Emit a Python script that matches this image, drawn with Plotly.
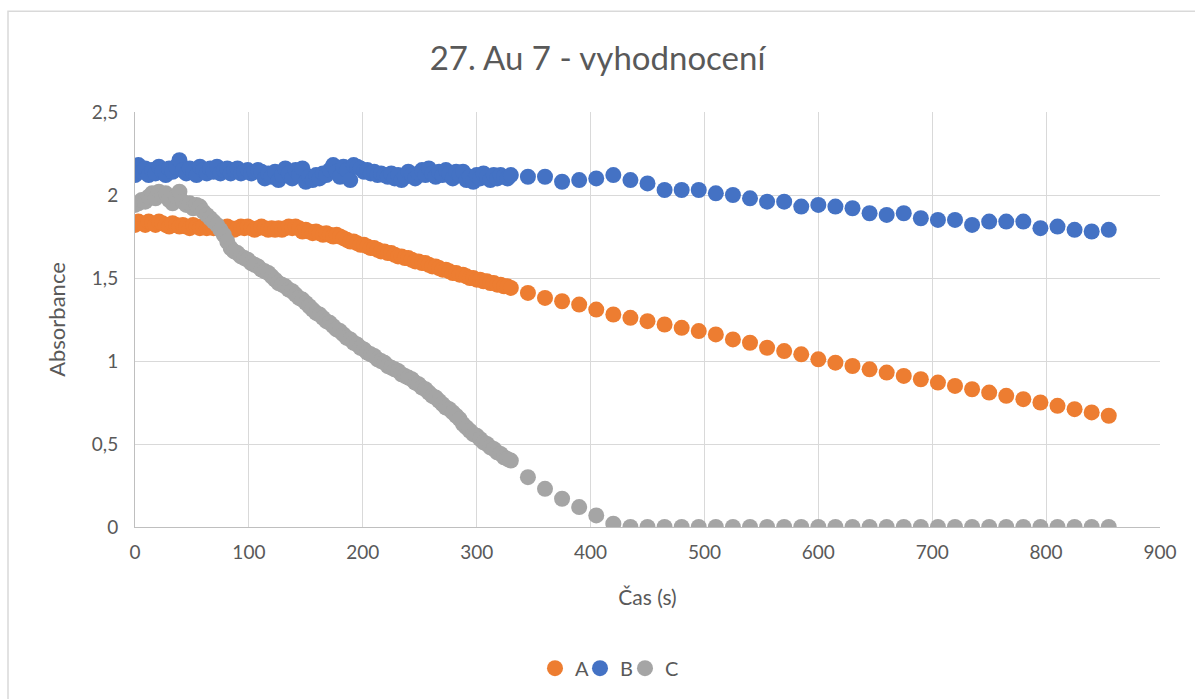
import plotly.graph_objects as go

# time (s): dense sampling then sparse sampling
time_dense = [0, 3, 6, 9, 12, 15, 18, 21, 24, 27, 30, 33, 36, 39, 42, 45, 48, 51, 54, 57,
              60, 63, 66, 69, 72, 75, 78, 81, 84, 87, 90, 93, 96, 99, 102, 105, 108, 111, 114, 117,
              120, 123, 126, 129, 132, 135, 138, 141, 144, 147, 150, 153, 156, 159, 162, 165, 168, 171, 174, 177,
              180, 183, 186, 189, 192, 195, 198, 201, 204, 207, 210, 213, 216, 219, 222, 225, 228, 231, 234, 237,
              240, 243, 246, 249, 252, 255, 258, 261, 264, 267, 270, 273, 276, 279, 282, 285, 288, 291, 294, 297,
              300, 303, 306, 309, 312, 315, 318, 321, 324, 327, 330]
time_sparse = [345, 360, 375, 390, 405, 420, 435, 450, 465, 480, 495, 510, 525, 540, 555, 570, 585,
               600, 615, 630, 645, 660, 675, 690, 705, 720, 735, 750, 765, 780, 795, 810, 825, 840, 855]

a_dense = [1.82, 1.84, 1.83, 1.82, 1.84, 1.83, 1.82, 1.84, 1.83, 1.82, 1.81, 1.83, 1.82, 1.81, 1.82, 1.81, 1.80, 1.82, 1.81, 1.80,
           1.81, 1.80, 1.81, 1.80, 1.81, 1.80, 1.80, 1.81, 1.80, 1.79, 1.80, 1.81, 1.80, 1.81, 1.80, 1.79, 1.80, 1.81, 1.80, 1.79,
           1.80, 1.79, 1.80, 1.79, 1.80, 1.81, 1.80, 1.81, 1.80, 1.78, 1.79, 1.78, 1.77, 1.78, 1.77, 1.76, 1.77, 1.76, 1.75, 1.76,
           1.75, 1.74, 1.73, 1.72, 1.72, 1.71, 1.70, 1.70, 1.69, 1.68, 1.68, 1.67, 1.66, 1.66, 1.65, 1.65, 1.64, 1.63, 1.63, 1.62,
           1.62, 1.61, 1.60, 1.60, 1.59, 1.59, 1.58, 1.57, 1.57, 1.56, 1.55, 1.55, 1.54, 1.53, 1.53, 1.52, 1.52, 1.51, 1.50, 1.50,
           1.49, 1.49, 1.48, 1.48, 1.47, 1.47, 1.46, 1.46, 1.45, 1.45, 1.44]
a_sparse = [1.41, 1.38, 1.36, 1.34, 1.31, 1.28, 1.26, 1.24, 1.22, 1.20, 1.18, 1.16, 1.13, 1.11, 1.08, 1.06, 1.04,
            1.01, 0.99, 0.97, 0.95, 0.93, 0.91, 0.89, 0.87, 0.85, 0.83, 0.81, 0.79, 0.77, 0.75, 0.73, 0.71, 0.69, 0.67]

b_dense = [2.12, 2.18, 2.14, 2.16, 2.12, 2.15, 2.13, 2.17, 2.14, 2.12, 2.16, 2.14, 2.17, 2.21, 2.15, 2.13, 2.16, 2.14, 2.12, 2.17,
           2.15, 2.13, 2.16, 2.14, 2.17, 2.13, 2.15, 2.16, 2.13, 2.15, 2.16, 2.13, 2.14, 2.15, 2.13, 2.14, 2.15, 2.14, 2.10, 2.13,
           2.11, 2.14, 2.09, 2.12, 2.16, 2.13, 2.10, 2.15, 2.12, 2.16, 2.08, 2.11, 2.09, 2.12, 2.10, 2.13, 2.12, 2.15, 2.18, 2.14,
           2.11, 2.17, 2.15, 2.09, 2.18, 2.17, 2.16, 2.14, 2.15, 2.13, 2.14, 2.12, 2.13, 2.12, 2.11, 2.13, 2.10, 2.12, 2.09, 2.11,
           2.14, 2.12, 2.10, 2.13, 2.15, 2.12, 2.16, 2.13, 2.11, 2.14, 2.12, 2.15, 2.13, 2.10, 2.14, 2.12, 2.14, 2.09, 2.11, 2.08,
           2.12, 2.10, 2.13, 2.11, 2.09, 2.12, 2.10, 2.12, 2.11, 2.10, 2.12]
b_sparse = [2.11, 2.11, 2.08, 2.09, 2.10, 2.12, 2.09, 2.07, 2.03, 2.03, 2.03, 2.01, 2.00, 1.98, 1.96, 1.96, 1.93,
            1.94, 1.93, 1.92, 1.89, 1.88, 1.89, 1.86, 1.85, 1.85, 1.82, 1.84, 1.84, 1.84, 1.80, 1.81, 1.79, 1.78, 1.79]

c_dense = [1.94, 1.95, 1.97, 1.96, 1.99, 2.01, 1.98, 2.02, 2.00, 2.01, 1.97, 1.95, 1.99, 2.02, 1.96, 1.94, 1.95, 1.92, 1.94, 1.93,
           1.90, 1.88, 1.86, 1.84, 1.82, 1.79, 1.76, 1.72, 1.68, 1.66, 1.65, 1.63, 1.62, 1.61, 1.59, 1.58, 1.57, 1.55, 1.54, 1.53,
           1.51, 1.49, 1.47, 1.46, 1.45, 1.43, 1.42, 1.40, 1.38, 1.37, 1.35, 1.33, 1.31, 1.29, 1.28, 1.26, 1.24, 1.23, 1.21, 1.19,
           1.18, 1.16, 1.14, 1.13, 1.11, 1.10, 1.08, 1.07, 1.05, 1.04, 1.03, 1.01, 1.00, 0.99, 0.97, 0.96, 0.95, 0.94, 0.92, 0.91,
           0.90, 0.89, 0.87, 0.86, 0.84, 0.83, 0.81, 0.79, 0.78, 0.76, 0.74, 0.72, 0.71, 0.69, 0.67, 0.65, 0.62, 0.60, 0.58, 0.56,
           0.55, 0.53, 0.51, 0.50, 0.48, 0.47, 0.45, 0.44, 0.42, 0.41, 0.40]
c_sparse = [0.30, 0.23, 0.17, 0.12, 0.07, 0.02, 0.00, 0.00, 0.00, 0.00, 0.00, 0.00, 0.00, 0.00, 0.00, 0.00, 0.00,
            0.00, 0.00, 0.00, 0.00, 0.00, 0.00, 0.00, 0.00, 0.00, 0.00, 0.00, 0.00, 0.00, 0.00, 0.00, 0.00, 0.00, 0.00]

series = [("A", a_dense + a_sparse, "#ED7D31", "legend"),
          ("B", b_dense + b_sparse, "#4472C4", "legend2"),
          ("C", c_dense + c_sparse, "#A5A5A5", "legend3")]
time_all = time_dense + time_sparse

FONT = "Lato, 'Open Sans', sans-serif"
TXT = "#595959"

fig = go.Figure()
for name, vals, col, leg in series:
    fig.add_trace(go.Scatter(x=time_all, y=vals, mode="markers", name=name, legend=leg,
                             marker=dict(size=16, color=col, line=dict(width=0))))

PL, PW = 135, 1025


def legend_cfg(marker_px):
    # place each legend so that its marker sits at the given pixel x
    return dict(orientation="h", x=(marker_px - 20 - PL) / PW, xanchor="left",
                y=-0.337, yanchor="middle", bgcolor="rgba(0,0,0,0)",
                font=dict(family=FONT, size=20, color=TXT), itemwidth=30)


fig.update_layout(
    width=1195, height=699,
    paper_bgcolor="white", plot_bgcolor="white",
    margin=dict(l=135, r=35, t=112, b=171),
    separators=", ",
    font=dict(family=FONT, color=TXT, size=19),
    title=dict(text="27. Au 7 - vyhodnocení", x=0.5, xanchor="center",
               y=1 - 58 / 699, yanchor="middle",
               font=dict(family=FONT, size=33, color=TXT)),
    showlegend=True,
    legend=legend_cfg(555),
    legend2=legend_cfg(600),
    legend3=legend_cfg(645),
    xaxis=dict(range=[0, 900], dtick=100, tick0=0, showgrid=True, gridcolor="#D9D9D9",
               gridwidth=1, zeroline=False, showline=True, linecolor="#BFBFBF", linewidth=1,
               ticks="", tickfont=dict(size=19, color=TXT), ticklabelstandoff=8,
               title=dict(text="Čas (s)", font=dict(size=21, color=TXT), standoff=28)),
    yaxis=dict(range=[0, 2.5], dtick=0.5, tick0=0, showgrid=True, gridcolor="#D9D9D9",
               gridwidth=1, zeroline=False, showline=True, linecolor="#BFBFBF", linewidth=1,
               ticks="", tickfont=dict(size=19, color=TXT), ticklabelstandoff=12,
               title=dict(text="Absorbance", font=dict(size=22, color=TXT), standoff=20)),
)
fig.update_xaxes(automargin=False)
fig.update_yaxes(automargin=False)

# outer chart border (partially cropped in the reference)
fig.add_shape(type="rect", xref="paper", yref="paper",
              x0=(8 - 135) / 1025, x1=(1200 - 135) / 1025,
              y0=(528 - 705) / 416, y1=(528 - 11) / 416,
              line=dict(color="#D9D9D9", width=1.5), fillcolor="rgba(0,0,0,0)", layer="below")

fig.write_html("out.html")
